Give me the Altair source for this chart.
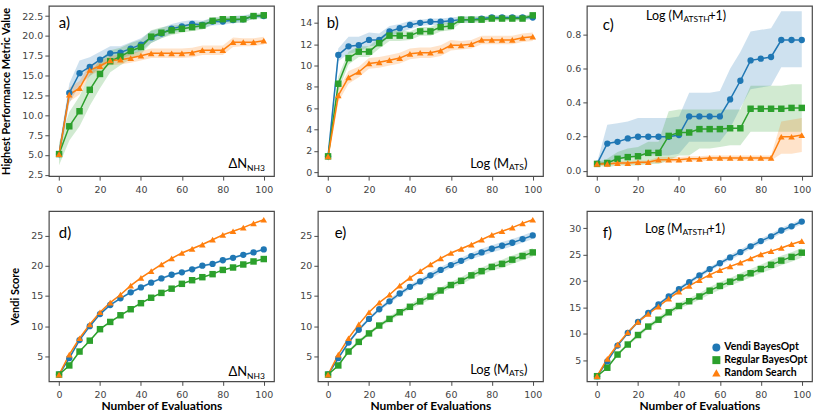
import altair as alt
import pandas as pd

EVALS = list(range(0, 101, 5))
SERIES = ["Vendi BayesOpt", "Regular BayesOpt", "Random Search"]
COLORS = ["#1f77b4", "#2ca02c", "#ff7f0e"]
SHAPES = ["circle", "square", "triangle-up"]

# ---------------- panel a) : Highest value, dN_NH3 ----------------
a_vendi = [5.1, 12.8, 15.3, 16.1, 17.0, 17.8, 17.9, 18.4, 18.9, 19.8, 20.3, 20.9, 21.2, 21.5, 21.4, 21.8, 21.8, 22.0, 22.1, 22.5, 22.5]
a_vendi_lo = [4.3, 11.5, 13.8, 14.9, 16.0, 16.9, 17.1, 17.6, 18.1, 19.1, 19.7, 20.3, 20.7, 21.0, 20.9, 21.3, 21.4, 21.6, 21.7, 22.2, 22.2]
a_vendi_hi = [5.9, 14.0, 16.9, 17.3, 18.0, 18.7, 18.7, 19.2, 19.7, 20.6, 21.0, 21.5, 21.8, 22.0, 21.9, 22.3, 22.3, 22.5, 22.6, 22.8, 22.8]
a_regular = [5.1, 8.6, 10.5, 13.2, 15.2, 16.8, 17.4, 18.1, 18.6, 19.9, 20.4, 20.7, 20.9, 21.1, 21.3, 21.9, 22.1, 22.1, 22.1, 22.5, 22.6]
a_regular_lo = [3.7, 6.8, 8.6, 11.2, 13.4, 15.4, 16.3, 17.1, 17.7, 19.1, 19.7, 20.1, 20.4, 20.6, 20.8, 21.5, 21.7, 21.7, 21.7, 22.2, 22.3]
a_regular_hi = [6.5, 10.4, 12.4, 15.2, 17.0, 18.2, 18.5, 19.1, 19.5, 20.7, 21.1, 21.3, 21.4, 21.6, 21.8, 22.3, 22.5, 22.5, 22.5, 22.8, 22.9]
a_random = [5.1, 12.6, 13.4, 15.7, 16.2, 16.9, 17.0, 17.2, 17.5, 17.8, 17.8, 17.8, 17.8, 17.9, 18.2, 18.2, 18.2, 19.2, 19.2, 19.2, 19.4]
a_random_lo = [4.5, 11.7, 12.6, 15.0, 15.6, 16.3, 16.4, 16.6, 16.9, 17.2, 17.2, 17.2, 17.2, 17.3, 17.6, 17.6, 17.6, 18.6, 18.7, 18.7, 18.9]
a_random_hi = [5.7, 13.5, 14.3, 16.4, 16.8, 17.5, 17.6, 17.8, 18.1, 18.4, 18.4, 18.4, 18.4, 18.5, 18.8, 18.8, 18.8, 19.8, 19.7, 19.7, 19.9]

# ---------------- panel b) : Highest value, Log(M_ATS) ----------------
b_vendi = [1.5, 11.0, 11.8, 11.9, 12.4, 12.4, 13.2, 13.5, 13.8, 14.0, 14.1, 14.1, 14.2, 14.3, 14.3, 14.4, 14.5, 14.5, 14.5, 14.5, 14.5]
b_vendi_lo = [1.0, 10.4, 11.1, 11.3, 11.8, 11.9, 12.7, 13.1, 13.4, 13.7, 13.8, 13.8, 13.9, 14.0, 14.0, 14.2, 14.3, 14.3, 14.3, 14.3, 14.3]
b_vendi_hi = [2.0, 11.6, 12.7, 12.7, 13.1, 13.0, 13.7, 13.9, 14.2, 14.3, 14.4, 14.4, 14.5, 14.6, 14.6, 14.6, 14.7, 14.7, 14.7, 14.7, 14.7]
b_regular = [1.5, 8.3, 10.7, 11.3, 11.3, 12.1, 12.8, 12.8, 12.8, 13.2, 13.2, 13.6, 13.7, 14.3, 14.3, 14.3, 14.4, 14.4, 14.4, 14.4, 14.7]
b_regular_lo = [1.0, 7.6, 10.1, 10.8, 10.8, 11.6, 12.3, 12.3, 12.4, 12.8, 12.8, 13.2, 13.3, 14.0, 14.0, 14.0, 14.2, 14.2, 14.2, 14.2, 14.5]
b_regular_hi = [2.0, 9.0, 11.3, 11.8, 11.8, 12.6, 13.3, 13.3, 13.2, 13.6, 13.6, 14.0, 14.1, 14.6, 14.6, 14.6, 14.6, 14.6, 14.6, 14.6, 14.9]
b_random = [1.5, 7.2, 8.9, 9.4, 10.2, 10.3, 10.5, 10.7, 11.1, 11.2, 11.2, 11.4, 11.9, 11.9, 12.0, 12.4, 12.4, 12.4, 12.4, 12.6, 12.7]
b_random_lo = [1.0, 6.6, 8.3, 8.9, 9.7, 9.8, 10.0, 10.2, 10.6, 10.7, 10.7, 10.9, 11.4, 11.5, 11.6, 12.0, 12.0, 12.0, 12.0, 12.2, 12.3]
b_random_hi = [2.0, 7.8, 9.5, 9.9, 10.7, 10.8, 11.0, 11.2, 11.6, 11.7, 11.7, 11.9, 12.4, 12.3, 12.4, 12.8, 12.8, 12.8, 12.8, 13.0, 13.1]

# ---------------- panel c) : Highest value, Log(M_ATSTH+1) ----------------
c_vendi = [0.04, 0.16, 0.17, 0.19, 0.20, 0.20, 0.20, 0.20, 0.21, 0.32, 0.32, 0.32, 0.32, 0.42, 0.53, 0.65, 0.66, 0.67, 0.77, 0.77, 0.77]
c_vendi_lo = [0.03, 0.05, 0.06, 0.08, 0.09, 0.09, 0.09, 0.09, 0.10, 0.17, 0.17, 0.17, 0.17, 0.25, 0.37, 0.48, 0.49, 0.50, 0.61, 0.61, 0.61]
c_vendi_hi = [0.05, 0.27, 0.28, 0.29, 0.31, 0.31, 0.31, 0.31, 0.32, 0.46, 0.46, 0.46, 0.47, 0.60, 0.70, 0.82, 0.83, 0.84, 0.94, 0.94, 0.94]
c_regular = [0.04, 0.045, 0.07, 0.08, 0.085, 0.105, 0.105, 0.205, 0.225, 0.225, 0.245, 0.245, 0.245, 0.25, 0.25, 0.365, 0.365, 0.365, 0.365, 0.37, 0.37]
c_regular_lo = [0.03, 0.02, 0.03, 0.03, 0.03, 0.04, 0.04, 0.06, 0.09, 0.09, 0.13, 0.13, 0.14, 0.15, 0.15, 0.23, 0.23, 0.23, 0.23, 0.23, 0.23]
c_regular_hi = [0.05, 0.07, 0.11, 0.13, 0.14, 0.17, 0.17, 0.35, 0.36, 0.36, 0.36, 0.36, 0.36, 0.36, 0.36, 0.50, 0.50, 0.50, 0.50, 0.51, 0.51]
c_random = [0.04, 0.04, 0.045, 0.045, 0.05, 0.05, 0.065, 0.065, 0.065, 0.07, 0.07, 0.075, 0.075, 0.075, 0.075, 0.075, 0.075, 0.075, 0.20, 0.20, 0.21]
c_random_lo = [0.03, 0.03, 0.035, 0.035, 0.04, 0.04, 0.05, 0.05, 0.05, 0.055, 0.055, 0.06, 0.06, 0.06, 0.06, 0.06, 0.06, 0.06, 0.10, 0.10, 0.11]
c_random_hi = [0.05, 0.05, 0.055, 0.055, 0.06, 0.06, 0.08, 0.08, 0.08, 0.085, 0.085, 0.09, 0.09, 0.09, 0.09, 0.09, 0.09, 0.09, 0.29, 0.30, 0.31]

# ---------------- panels d) e) f) : Vendi score ----------------
d_vendi = [2.0, 4.7, 7.7, 10.0, 12.0, 13.5, 14.6, 15.6, 16.4, 17.2, 17.9, 18.5, 18.9, 19.4, 20.0, 20.3, 20.9, 21.3, 21.8, 22.2, 22.7]
d_vendi_err = [0.1, 0.2, 0.2, 0.2, 0.2, 0.2, 0.2, 0.2, 0.2, 0.2, 0.2, 0.2, 0.2, 0.2, 0.2, 0.2, 0.2, 0.2, 0.2, 0.2, 0.2]
d_regular = [2.0, 3.5, 5.8, 7.6, 9.5, 10.7, 11.8, 12.8, 13.8, 14.7, 15.5, 16.2, 17.0, 17.6, 18.1, 18.6, 19.3, 19.7, 20.2, 20.7, 21.1]
d_regular_err = [0.1, 0.1, 0.1, 0.1, 0.1, 0.1, 0.1, 0.1, 0.1, 0.1, 0.1, 0.1, 0.1, 0.1, 0.1, 0.1, 0.1, 0.1, 0.1, 0.1, 0.1]
d_random = [2.0, 5.3, 8.0, 10.3, 12.3, 13.9, 15.2, 16.7, 18.0, 19.1, 20.2, 21.2, 22.1, 22.8, 23.5, 24.3, 25.1, 25.7, 26.3, 27.0, 27.6]
d_random_err = [0.1, 0.1, 0.1, 0.1, 0.1, 0.1, 0.1, 0.1, 0.1, 0.1, 0.1, 0.1, 0.1, 0.1, 0.1, 0.1, 0.1, 0.1, 0.1, 0.1, 0.1]

e_vendi = [2.0, 4.7, 7.3, 9.4, 11.2, 12.8, 14.1, 15.4, 16.5, 17.4, 18.4, 19.3, 20.1, 20.8, 21.6, 22.2, 22.8, 23.3, 23.8, 24.4, 25.0]
e_vendi_err = [0.1, 0.2, 0.3, 0.3, 0.3, 0.3, 0.4, 0.4, 0.4, 0.4, 0.5, 0.5, 0.5, 0.5, 0.5, 0.6, 0.6, 0.6, 0.6, 0.6, 0.6]
e_regular = [2.0, 3.5, 5.8, 7.4, 8.8, 10.1, 11.2, 12.3, 13.2, 14.1, 14.9, 15.9, 16.8, 17.5, 18.4, 19.1, 19.8, 20.3, 21.0, 21.6, 22.2]
e_regular_err = [0.1, 0.2, 0.2, 0.3, 0.3, 0.3, 0.4, 0.4, 0.4, 0.5, 0.5, 0.5, 0.5, 0.6, 0.6, 0.6, 0.6, 0.7, 0.7, 0.7, 0.7]
e_random = [2.0, 5.3, 8.0, 10.3, 12.3, 13.9, 15.2, 16.7, 18.0, 19.1, 20.2, 21.2, 22.1, 22.8, 23.5, 24.3, 25.1, 25.7, 26.3, 27.0, 27.6]
e_random_err = [0.1, 0.1, 0.1, 0.1, 0.1, 0.1, 0.1, 0.1, 0.1, 0.1, 0.1, 0.1, 0.1, 0.1, 0.1, 0.1, 0.1, 0.1, 0.1, 0.1, 0.1]

f_vendi = [2.0, 4.8, 7.8, 10.2, 12.3, 14.0, 15.6, 17.1, 18.5, 19.8, 21.1, 22.3, 23.4, 24.5, 25.5, 26.6, 27.6, 28.5, 29.6, 30.4, 31.3]
f_vendi_err = [0.1, 0.2, 0.2, 0.3, 0.3, 0.3, 0.3, 0.3, 0.4, 0.4, 0.4, 0.4, 0.4, 0.5, 0.5, 0.5, 0.5, 0.5, 0.5, 0.5, 0.5]
f_regular = [2.0, 3.6, 6.1, 8.0, 9.8, 11.4, 12.7, 14.1, 15.3, 16.2, 17.1, 18.2, 19.1, 19.9, 20.7, 21.5, 22.3, 23.1, 23.9, 24.6, 25.4]
f_regular_err = [0.1, 0.2, 0.3, 0.3, 0.4, 0.4, 0.5, 0.5, 0.5, 0.6, 0.6, 0.7, 0.7, 0.7, 0.8, 0.8, 0.8, 0.9, 0.9, 0.9, 0.9]
f_random = [2.0, 5.3, 8.0, 10.3, 12.3, 13.8, 15.2, 16.7, 18.0, 19.1, 20.2, 21.2, 22.1, 22.8, 23.5, 24.3, 25.1, 25.7, 26.3, 27.0, 27.6]
f_random_err = [0.1, 0.1, 0.1, 0.1, 0.1, 0.1, 0.1, 0.1, 0.1, 0.1, 0.1, 0.1, 0.1, 0.1, 0.1, 0.1, 0.1, 0.1, 0.1, 0.1, 0.1]

X_TICKS = [0, 20, 40, 60, 80, 100]
LETTERS = ["a)", "b)", "c)", "d)", "e)", "f)"]
METRIC_MAIN = ["\u0394N", "Log (M", "Log (M"]
METRIC_SUB = ["NH3", "ATS", "ATSTH"]
METRIC_TAIL = ["", ")", "+1)"]

W, H = 226, 171
FONT = "Lato"


def long_df(means, los, his):
    rows = []
    for k, (s, m, lo, hi) in enumerate(zip(SERIES, means, los, his)):
        for i, x in enumerate(EVALS):
            rows.append({"x": x, "series": s, "k": k, "y": m[i], "lo": lo[i], "hi": hi[i]})
    return pd.DataFrame(rows)


def err_df(means, errs):
    los = [[v - e for v, e in zip(m, er)] for m, er in zip(means, errs)]
    his = [[v + e for v, e in zip(m, er)] for m, er in zip(means, errs)]
    return long_df(means, los, his)


def text_layer(txt, x, y, size, align="left", weight="normal", baseline="alphabetic"):
    return alt.Chart(pd.DataFrame({"t": [txt]})).mark_text(
        align=align, baseline=baseline, font=FONT, fontSize=size,
        fontWeight=weight, color="black"
    ).encode(text="t:N", x=alt.value(x), y=alt.value(y))


def legend_layers(x0, y0, dy):
    out = []
    for i, (s, c, sh) in enumerate(zip(SERIES, COLORS, SHAPES)):
        yy = y0 + i * dy
        out.append(alt.Chart(pd.DataFrame({"s": [s]})).mark_point(
            filled=True, opacity=1, color=c, shape=sh, size=64 if sh != "triangle-up" else 70
        ).encode(x=alt.value(x0), y=alt.value(yy), detail="s:N"))
        out.append(text_layer(s, x0 + 8, yy, 10.5, weight="bold", baseline="middle"))
    return out


def panel(df, ydom, yticks, yfmt, idx, letter_pos, metric_pos, msize=13, ytitle=None, xtitle=None, legend=False):
    xaxis = alt.Axis(values=X_TICKS, format="d", title=xtitle if xtitle else "",
                     labelPadding=4, titlePadding=2, titleFontSize=12, labelFlush=False)
    yaxis = alt.Axis(values=yticks, format=yfmt, title=ytitle if ytitle else "",
                     labelPadding=2, titlePadding=10, titleFontSize=11, labelFlush=False)
    xscale = alt.Scale(domain=[-5, 105], nice=False, zero=False)
    yscale = alt.Scale(domain=ydom, nice=False, zero=False)
    xenc = alt.X("x:Q", scale=xscale, axis=xaxis)
    yenc = alt.Y("y:Q", scale=yscale, axis=yaxis)
    base = alt.Chart(df)
    band = base.mark_area(opacity=0.22).encode(
        x=xenc, y=alt.Y("lo:Q", scale=yscale, axis=yaxis), y2="hi:Q",
        fill=alt.Fill("series:N", scale=alt.Scale(domain=SERIES, range=COLORS), legend=None),
        detail="series:N",
    )
    line = base.mark_line(strokeWidth=1.5).encode(
        x=xenc, y=yenc,
        stroke=alt.Stroke("series:N", scale=alt.Scale(domain=SERIES, range=COLORS), legend=None),
        detail="series:N",
    )
    pts = base.mark_point(filled=True, opacity=1).encode(
        x=xenc, y=yenc,
        color=alt.Color("series:N", scale=alt.Scale(domain=SERIES, range=COLORS), legend=None),
        shape=alt.Shape("series:N", scale=alt.Scale(domain=SERIES, range=SHAPES), legend=None),
        size=alt.Size("series:N", scale=alt.Scale(domain=SERIES, range=[40, 44, 50]), legend=None),
        order=alt.Order("k:Q"),
    )
    m = idx % 3
    lx, ly = letter_pos
    mx, my, sx, sy, tx = metric_pos
    layers = [band, line, pts,
              text_layer(LETTERS[idx], lx, ly, 15),
              text_layer(METRIC_MAIN[m], mx, my, msize, align="right"),
              text_layer(METRIC_SUB[m], sx, sy, 8.5, align="left")]
    if METRIC_TAIL[m]:
        layers.append(text_layer(METRIC_TAIL[m], tx, my, msize, align="left"))
    if legend:
        layers += legend_layers(130, 137, 12.7)
    return alt.layer(*layers).properties(width=W, height=H)


da = long_df([a_vendi, a_regular, a_random], [a_vendi_lo, a_regular_lo, a_random_lo], [a_vendi_hi, a_regular_hi, a_random_hi])
db = long_df([b_vendi, b_regular, b_random], [b_vendi_lo, b_regular_lo, b_random_lo], [b_vendi_hi, b_regular_hi, b_random_hi])
dc = long_df([c_vendi, c_regular, c_random], [c_vendi_lo, c_regular_lo, c_random_lo], [c_vendi_hi, c_regular_hi, c_random_hi])
dd = err_df([d_vendi, d_regular, d_random], [d_vendi_err, d_regular_err, d_random_err])
de = err_df([e_vendi, e_regular, e_random], [e_vendi_err, e_regular_err, e_random_err])
dfp = err_df([f_vendi, f_regular, f_random], [f_vendi_err, f_regular_err, f_random_err])

pa = panel(da, [2.32, 23.8], [2.5, 5, 7.5, 10, 12.5, 15, 17.5, 20, 22.5], ".1f", 0,
           (10, 22), (199, 163, 199, 166, 0), ytitle="Highest Performance Metric Value")
pb = panel(db, [-0.35, 15.6], [0, 2, 4, 6, 8, 10, 12, 14], "d", 1,
           (9, 22), (192, 163, 192, 165, 207))
pc = panel(dc, [-0.032, 0.972], [0.0, 0.2, 0.4, 0.6, 0.8], ".1f", 2,
           (16, 24), (97, 14, 97, 16, 122), msize=12.5)
pd_ = panel(dd, [0.87, 29.05], [5, 10, 15, 20, 25], "d", 3,
            (10, 27), (199, 166, 199, 169, 0), ytitle="Vendi Score", xtitle="Number of Evaluations")
pe = panel(de, [0.87, 29.05], [5, 10, 15, 20, 25], "d", 4,
           (17, 27), (192, 164, 192, 166, 207), xtitle="Number of Evaluations")
pf = panel(dfp, [1.02, 33.3], [5, 10, 15, 20, 25, 30], "d", 5,
           (16, 27), (96, 22, 96, 24, 121), msize=12.5, xtitle="Number of Evaluations", legend=True)

chart = alt.concat(pa, pb, pc, pd_, pe, pf, columns=3, bounds="flush",
                   spacing={"row": 35, "column": 44}).resolve_scale(
    x="independent", y="independent"
).properties(
    padding={"left": 0, "top": 4, "right": 0, "bottom": 0}
).configure_view(
    stroke="#4a4a4a", strokeWidth=1.2
).configure_axis(
    grid=False, domain=False, tickColor="#4a4a4a", tickSize=4, tickWidth=1,
    labelColor="#444444", labelFont="DejaVu Sans", labelFontSize=9.5,
    titleFont=FONT, titleFontWeight="bold", titleColor="black"
)

chart.save("out.html", embed_options={"renderer": "svg", "actions": False})
